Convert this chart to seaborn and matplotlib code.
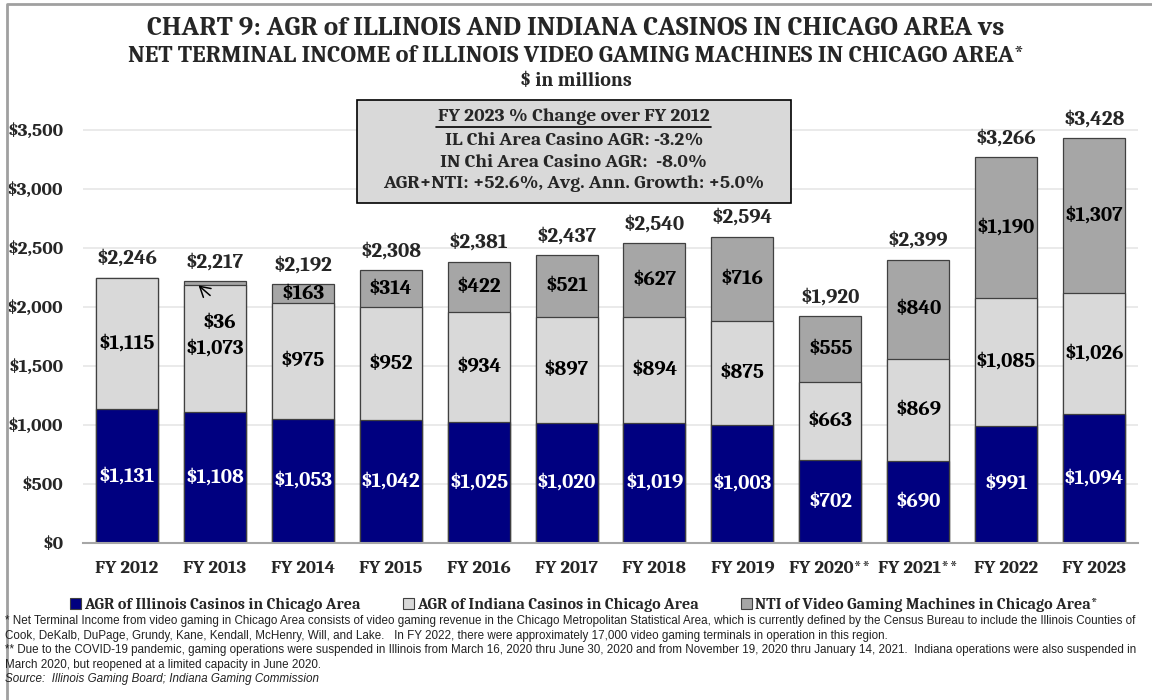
import matplotlib
matplotlib.use("Agg")
import matplotlib.pyplot as plt
import matplotlib.patches as mpatches
import matplotlib.lines as mlines
import seaborn as sns
import pandas as pd
import numpy as np

years = ["FY 2012", "FY 2013", "FY 2014", "FY 2015", "FY 2016", "FY 2017",
         "FY 2018", "FY 2019", "FY 2020**", "FY 2021**", "FY 2022", "FY 2023"]
il_agr = [1131, 1108, 1053, 1042, 1025, 1020, 1019, 1003, 702, 690, 991, 1094]
in_agr = [1115, 1073, 975, 952, 934, 897, 894, 875, 663, 869, 1085, 1026]
nti = [0, 36, 163, 314, 422, 521, 627, 716, 555, 840, 1190, 1307]
totals = [2246, 2217, 2192, 2308, 2381, 2437, 2540, 2594, 1920, 2399, 3266, 3428]
yticks = [0, 500, 1000, 1500, 2000, 2500, 3000, 3500]

C_IL = "#000080"
C_IN = "#D9D9D9"
C_NTI = "#A6A6A6"

sns.set_theme(style="white")
SERIF = ["Caladea", "Liberation Serif", "DejaVu Serif"]
SANS = ["Liberation Sans", "DejaVu Sans"]
plt.rcParams["font.family"] = SERIF

df = pd.DataFrame({"year": years, "il": il_agr, "in": in_agr, "nti": nti})
df["c1"] = df["il"]
df["c2"] = df["il"] + df["in"]
df["c3"] = df["c2"] + df["nti"]

fig = plt.figure(figsize=(11.52, 7.0), dpi=100)
ax = fig.add_axes([83 / 1152, 1 - 543 / 700, (1138 - 83) / 1152, (543 - 100) / 700])

ax.set_axisbelow(True)
for yv in yticks[1:]:
    ax.axhline(yv, color="#E6E6E6", lw=1.2, zorder=0)

W = 0.705
common = dict(x="year", order=years, width=W, edgecolor="#404040", linewidth=0.9, ax=ax)
sns.barplot(data=df, y="c3", color=C_NTI, saturation=1, **common)
sns.barplot(data=df, y="c2", color=C_IN, saturation=1, **common)
sns.barplot(data=df, y="c1", color=C_IL, saturation=1, **common)

ax.set_ylim(0, 3750)
ax.set_xlim(-0.5, len(years) - 0.5)
ax.set_yticks(yticks)
ax.set_yticklabels([f"${v:,}" for v in yticks], fontsize=14, fontweight="bold", family=SERIF)
ax.set_xticks(range(len(years)))
ax.set_xticklabels(years, fontsize=13.6, fontweight="bold", family=SERIF)
ax.tick_params(axis="x", length=0, pad=12)
ax.tick_params(axis="y", length=0, pad=14)
ax.set_xlabel("")
ax.set_ylabel("")
for s in ["top", "right", "left"]:
    ax.spines[s].set_visible(False)
ax.spines["bottom"].set_color("#A6A6A6")
ax.spines["bottom"].set_linewidth(1.5)

LFS = 15.2
for i in range(len(years)):
    ax.text(i, df["c1"][i] / 2, f"${il_agr[i]:,}", ha="center", va="center",
            color="white", fontsize=LFS, fontweight="bold", family=SERIF)
    ax.text(i, df["c1"][i] + in_agr[i] / 2, f"${in_agr[i]:,}", ha="center", va="center",
            color="black", fontsize=LFS, fontweight="bold", family=SERIF)
    if nti[i] >= 100:
        ax.text(i, df["c2"][i] + nti[i] / 2, f"${nti[i]:,}", ha="center", va="center",
                color="black", fontsize=LFS, fontweight="bold", family=SERIF)
    ax.annotate(f"${totals[i]:,}", (i, df["c3"][i]), xytext=(0, 7), textcoords="offset points",
                ha="center", va="bottom", fontsize=LFS, fontweight="bold", family=SERIF)

# small NTI label for FY 2013
ax.text(1.05, 1865, f"${nti[1]:,}", ha="center", va="center", color="black",
        fontsize=LFS, fontweight="bold", family=SERIF)
ax.annotate("", xy=(0.79, df["c2"][1] + 15), xytext=(0.97, 2080),
            arrowprops=dict(arrowstyle="->,head_length=0.6,head_width=0.35", color="black", lw=1.1))

# Title
fig.text(0.5, 1 - 29 / 700, "CHART 9: AGR of ILLINOIS AND INDIANA CASINOS IN CHICAGO AREA vs",
         ha="center", va="center", fontsize=19.5, fontweight="bold", family=SERIF)
fig.text(0.5, 1 - 56 / 700, "NET TERMINAL INCOME of ILLINOIS VIDEO GAMING MACHINES IN CHICAGO AREA*",
         ha="center", va="center", fontsize=17.5, fontweight="bold", family=SERIF)
fig.text(0.5, 1 - 81 / 700, "$ in millions", ha="center", va="center",
         fontsize=14.4, fontweight="bold", family=SERIF)

# Summary box
bx0, bx1, by0, by1 = 357, 791, 100, 203
fig.patches.append(mpatches.Rectangle((bx0 / 1152, 1 - by1 / 700), (bx1 - bx0) / 1152, (by1 - by0) / 700,
                                      transform=fig.transFigure, facecolor="#D9D9D9",
                                      edgecolor="black", linewidth=1.2, zorder=5))
box_lines = ["FY 2023 % Change over FY 2012",
             "IL Chi Area Casino AGR: -3.2%",
             "IN Chi Area Casino AGR:  -8.0%",
             "AGR+NTI: +52.6%, Avg. Ann. Growth: +5.0%"]
box_y = [117, 140, 162, 184]
for t, yy in zip(box_lines, box_y):
    fig.text(574 / 1152, 1 - yy / 700, t, ha="center", va="center", fontsize=14,
             fontweight="bold", family=SERIF, zorder=6)
fig.lines.append(mlines.Line2D([436 / 1152, 711 / 1152], [1 - 127 / 700, 1 - 127 / 700],
                               transform=fig.transFigure, color="black", lw=1.2, zorder=6))

# Legend
labels = ["AGR of Illinois Casinos in Chicago Area", "AGR of Indiana Casinos in Chicago Area",
          "NTI of Video Gaming Machines in Chicago Area*"]
handles = [mpatches.Patch(facecolor=c, edgecolor="#404040", linewidth=0.8) for c in (C_IL, C_IN, C_NTI)]
fig.legend(handles, labels, loc="center", bbox_to_anchor=(0.507, 1 - 605 / 700), ncol=3, frameon=False,
           prop={"family": SERIF, "weight": "bold", "size": 11.6}, handlelength=0.7, handleheight=0.7,
           handletextpad=0.2, columnspacing=2.6)

# Footnotes
notes = [
    "* Net Terminal Income from video gaming in Chicago Area consists of video gaming revenue in the Chicago Metropolitan Statistical Area, which is currently defined by the Census Bureau to include the Illinois Counties of",
    "Cook, DeKalb, DuPage, Grundy, Kane, Kendall, McHenry, Will, and Lake.   In FY 2022, there were approximately 17,000 video gaming terminals in operation in this region.",
    "** Due to the COVID-19 pandemic, gaming operations were suspended in Illinois from March 16, 2020 thru June 30, 2020 and from November 19, 2020 thru January 14, 2021.  Indiana operations were also suspended in",
    "March 2020, but reopened at a limited capacity in June 2020.",
]
ny = [621, 636, 650, 665]
for t, yy in zip(notes, ny):
    fig.text(5 / 1152, 1 - yy / 700, t, ha="left", va="center", fontsize=8.4, family=SANS, color="#222222")
fig.text(5 / 1152, 1 - 679 / 700, "Source:  Illinois Gaming Board; Indiana Gaming Commission",
         ha="left", va="center", fontsize=8.4, family=SANS, style="italic", color="#222222")

# outer frame
fig.lines.append(mlines.Line2D([7 / 1152, 7 / 1152, 1.0], [0.0, 1 - 4 / 700, 1 - 4 / 700],
                               transform=fig.transFigure, color="#A0A0A0", lw=2))

fig.savefig("out.png", dpi=100)
